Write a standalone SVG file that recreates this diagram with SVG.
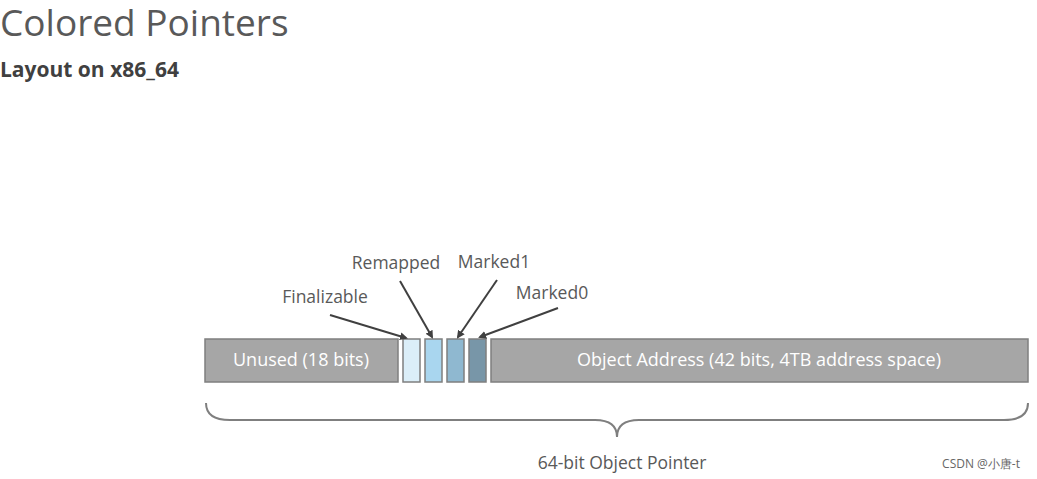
<svg xmlns="http://www.w3.org/2000/svg" width="1037" height="479" viewBox="0 0 1037 479">
<style>
text{font-family:"Open Sans","Liberation Sans",sans-serif;fill:#595959}
.bar{fill:#a6a6a6;stroke:#7f7f7f;stroke-width:1.5}
.bt{fill:#fff;font-size:18px}
.lbl{font-size:17.5px}
.c{stroke:#404040;stroke-width:2;fill:none;marker-end:url(#a)}
</style>
<defs><marker id="a" markerWidth="8" markerHeight="8" refX="6" refY="4" orient="auto" markerUnits="userSpaceOnUse"><path d="M0,0L8,4L0,8z" fill="#404040"/></marker></defs>
<rect width="1037" height="479" fill="#fff"/>
<text x="0" y="36" font-size="37" style="fill:#595959">Colored Pointers</text>
<text x="0" y="77" font-size="21" font-weight="bold" style="fill:#404040">Layout on x86_64</text>
<g id="unused"><rect class="bar" x="205" y="339" width="193" height="43"/><text class="bt" x="301" y="366" text-anchor="middle">Unused (18 bits)</text></g>
<g id="finalizable"><rect x="403" y="339" width="17" height="43" fill="#dbeef8" stroke="#7f7f7f" stroke-width="1.5"/><text class="lbl" x="325" y="303" text-anchor="middle">Finalizable</text></g>
<g id="remapped"><rect x="425" y="339" width="17" height="43" fill="#a9d6ef" stroke="#7f7f7f" stroke-width="1.5"/><text class="lbl" x="396" y="269" text-anchor="middle">Remapped</text></g>
<g id="marked1"><rect x="447" y="339" width="17" height="43" fill="#8fb8d0" stroke="#7f7f7f" stroke-width="1.5"/><text class="lbl" x="494" y="268" text-anchor="middle">Marked1</text></g>
<g id="marked0"><rect x="469" y="339" width="17" height="43" fill="#7896a8" stroke="#7f7f7f" stroke-width="1.5"/><text class="lbl" x="552" y="299" text-anchor="middle">Marked0</text></g>
<g id="address"><rect class="bar" x="491" y="339" width="537" height="43"/><text class="bt" x="759" y="366" text-anchor="middle">Object Address (42 bits, 4TB address space)</text></g>
<g id="pointer"><path d="M206,403 Q206,420 230,420 L595,420 Q617,420 617,437 Q617,420 639,420 L1004,420 Q1028,420 1028,403" fill="none" stroke="#7f7f7f" stroke-width="2"/><text class="lbl" x="622" y="469" text-anchor="middle">64-bit Object Pointer</text></g>
<g id="connectors">
<path class="c" d="M330,315L406,338"/>
<path class="c" d="M400,281L432,337"/>
<path class="c" d="M497,280L458,337"/>
<path class="c" d="M558,308L480,337"/>
</g>
<text x="1020" y="468" font-size="12" text-anchor="end" style="fill:#666">CSDN @小唐-t</text>
</svg>
